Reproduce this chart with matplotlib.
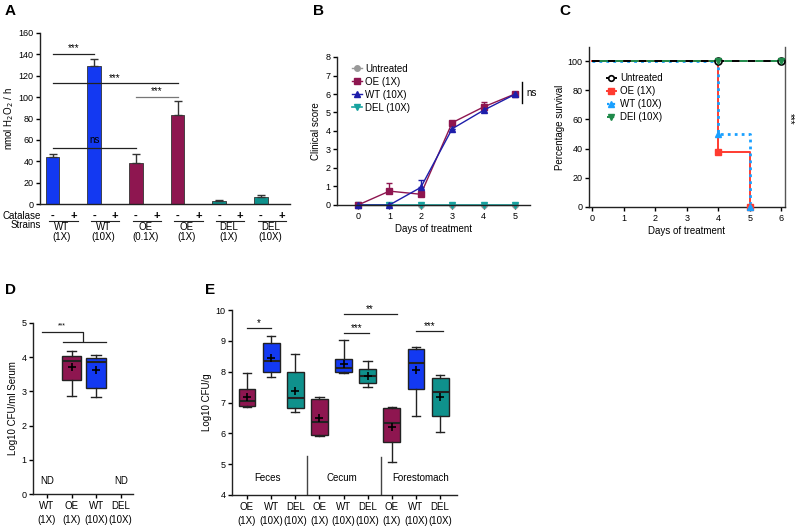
import matplotlib
matplotlib.use('Agg')
import matplotlib.pyplot as plt
import numpy as np

plt.rcParams['font.family'] = ['Liberation Sans', 'DejaVu Sans']
plt.rcParams['font.size'] = 7
plt.rcParams['xtick.labelsize'] = 6.5
plt.rcParams['ytick.labelsize'] = 6.5
plt.rcParams['axes.linewidth'] = 1.0
plt.rcParams['axes.edgecolor'] = '#222222'
plt.rcParams['xtick.major.width'] = 1.0
plt.rcParams['ytick.major.width'] = 1.0
plt.rcParams['xtick.major.size'] = 3
plt.rcParams['ytick.major.size'] = 3
plt.rcParams['xtick.major.pad'] = 2
plt.rcParams['ytick.major.pad'] = 1.5

OE_COL = '#8e1650'
WT_COL = '#1339f2'
DEL_COL = '#0f918c'

# ---- panel A: H2O2 production
a_strains = ['WT\n(1X)', 'WT\n(10X)', 'OE\n(0.1X)', 'OE\n(1X)', 'DEL\n(1X)', 'DEL\n(10X)']
a_no_catalase = [44, 129, 38, 83, 3, 6.5]
a_no_catalase_err = [3, 7, 9, 13, 1, 2]
a_with_catalase = [0, 0, 0, 0, 0, 0]
a_colors = [WT_COL, WT_COL, OE_COL, OE_COL, DEL_COL, DEL_COL]

# ---- panel B: clinical score
b_days = [0, 1, 2, 3, 4, 5]
b_untreated = [0, 0, 0, 0, 0, 0]
b_oe = [0, 0.75, 0.58, 4.45, 5.3, 6.0]
b_oe_err = [0, 0.45, 0, 0.08, 0.25, 0]
b_wt = [0, 0, 0.95, 4.12, 5.12, 5.98]
b_wt_err = [0, 0, 0.4, 0, 0.1, 0]
b_del = [0, 0, 0, 0, 0, 0]

# ---- panel C: survival
c_days_untreated = [0, 4, 6]
c_untreated = [100, 100, 100]
c_days_oe = [0, 4, 5]
c_oe = [100, 37.5, 0]
c_days_wt = [0, 4, 5]
c_wt = [100, 50, 0]
c_days_del = [0, 4, 6]
c_del = [100, 100, 100]

# ---- panel D: serum CFU (box stats)
d_labels = ['WT\n(1X)', 'OE\n(1X)', 'WT\n(10X)', 'DEL\n(10X)']
d_box_pos = [2, 3]
d_box_colors = [OE_COL, WT_COL]
d_whislo = [2.88, 2.84]
d_q1 = [3.32, 3.09]
d_med = [3.88, 3.86]
d_q3 = [4.03, 3.99]
d_whishi = [4.19, 4.07]
d_mean = [3.71, 3.62]

# ---- panel E: organ CFU (box stats)
e_labels = ['OE\n(1X)', 'WT\n(10X)', 'DEL\n(10X)'] * 3
e_colors = [OE_COL, WT_COL, DEL_COL] * 3
e_whislo = [6.86, 7.82, 6.70, 5.91, 7.95, 7.50, 5.08, 6.56, 6.04]
e_q1 = [6.90, 8.00, 6.82, 5.94, 7.98, 7.64, 5.71, 7.44, 6.56]
e_med = [7.06, 8.34, 7.16, 6.37, 8.12, 7.85, 6.35, 8.29, 7.34]
e_q3 = [7.43, 8.92, 7.98, 7.10, 8.42, 8.08, 6.82, 8.75, 7.81]
e_whishi = [7.95, 9.16, 8.57, 7.17, 9.03, 8.35, 6.84, 8.81, 7.88]
e_mean = [7.18, 8.43, 7.37, 6.49, 8.24, 7.86, 6.22, 8.05, 7.19]
e_sites = ['Feces', 'Cecum', 'Forestomach']

fig = plt.figure(figsize=(7.96, 5.28), dpi=100)


def prism(ax):
    ax.spines['top'].set_visible(False)
    ax.spines['right'].set_visible(False)


def sig_line(ax, x0, x1, y, txt, dy, color='#222222', fs=7):
    ax.plot([x0, x1], [y, y], color=color, lw=0.9, clip_on=False)
    ax.text((x0 + x1) / 2, y + dy, txt, ha='center', va='bottom', fontsize=fs)


# ================= A
axA = fig.add_axes([40 / 796, 1 - 204 / 528, 250 / 796, 171 / 528])
prism(axA)
pos_minus = np.arange(6) * 2
pos_plus = pos_minus + 1
axA.bar(pos_minus, a_no_catalase, width=0.67, color=a_colors, edgecolor='#333333', lw=0.6,
        yerr=[np.zeros(6), a_no_catalase_err], capsize=3,
        error_kw=dict(ecolor='#333333', elinewidth=1.0, capthick=1.0))
axA.bar(pos_plus, a_with_catalase, width=0.67, color=a_colors)
axA.set_xlim(-0.6, 11.4)
axA.set_ylim(0, 160)
axA.set_yticks(range(0, 161, 20))
axA.set_xticks([])
axA.set_ylabel('nmol H$_2$O$_2$ / h', labelpad=2)

sig_line(axA, 0, 2, 140.5, '***', 0.5)
sig_line(axA, 0, 6, 113, '***', 0.5)
sig_line(axA, 4, 6, 100.5, '***', 0.5, color='#777777')
sig_line(axA, 0, 4, 52, 'ns', 3)

tr = axA.get_xaxis_transform()
axA.text(-0.55, -0.07, 'Catalase', transform=tr, ha='right', va='center', fontsize=7)
axA.text(-0.55, -0.125, 'Strains', transform=tr, ha='right', va='center', fontsize=7)
for i, name in enumerate(a_strains):
    axA.text(pos_minus[i], -0.07, '-', transform=tr, ha='center', va='center',
             fontsize=8, fontweight='bold')
    axA.text(pos_plus[i], -0.07, '+', transform=tr, ha='center', va='center',
             fontsize=8, fontweight='bold')
    axA.plot([pos_minus[i] - 0.15, pos_plus[i] + 0.2], [-0.097, -0.097], transform=tr,
             color='#222222', lw=0.8, clip_on=False)
    axA.text(pos_minus[i] + 0.45, -0.105, name, transform=tr, ha='center', va='top',
             fontsize=7, linespacing=0.95)

# ================= B
axB = fig.add_axes([337 / 796, 1 - 205 / 528, 193 / 796, 148 / 528])
prism(axB)
l_un, = axB.plot(b_days, b_untreated, color='#999999', marker='o', ms=4, lw=1, clip_on=False)
l_oe = axB.errorbar(b_days, b_oe, yerr=[np.zeros(6), b_oe_err], color=OE_COL, marker='s', ms=5, lw=1,
                    capsize=2.5, clip_on=False)
l_wt = axB.errorbar(b_days, b_wt, yerr=[np.zeros(6), b_wt_err], color='#1e1eaa', marker='^', ms=5, lw=1,
                    capsize=2.5, clip_on=False)
l_del, = axB.plot(b_days, b_del, color='#18a3a0', marker='v', ms=5, lw=1.2, clip_on=False)
axB.set_xlim(-0.67, 5.48)
axB.set_ylim(0, 8)
axB.set_yticks(range(0, 9))
axB.set_xticks(b_days)
axB.set_xlabel('Days of treatment', fontsize=7, labelpad=2)
axB.set_ylabel('Clinical score', fontsize=7, labelpad=3)
axB.plot([5.22, 5.22], [5.5, 6.65], color='black', lw=1, clip_on=False)
axB.text(5.35, 6.05, 'ns', ha='left', va='center', fontsize=7)
axB.legend([l_un, l_oe[0], l_wt[0], l_del], ['Untreated', 'OE (1X)', 'WT (10X)', 'DEL (10X)'],
           loc='upper left', bbox_to_anchor=(0.06, 0.98), frameon=False, fontsize=7,
           handlelength=1.0, handletextpad=0.3, labelspacing=0.3, borderaxespad=0)

# ================= C
axC = fig.add_axes([589 / 796, 1 - 207 / 528, 196 / 796, 160 / 528])
axC.spines['top'].set_visible(False)
axC.spines['right'].set_color('#555555')
axC.step(c_days_oe, c_oe, where='post', color='#ff3b30', lw=1.4, clip_on=False)
axC.plot(c_days_oe[1:], c_oe[1:], 's', color='#ff3b30', ms=5, clip_on=False, zorder=4)
axC.step(c_days_wt, c_wt, where='post', color='#1aa0ff', lw=2, ls=(0, (1, 1.5)), clip_on=False)
axC.plot(c_days_wt[1:], c_wt[1:], '^', color='#1aa0ff', ms=5, clip_on=False, zorder=4)
axC.step(c_days_untreated, c_untreated, where='post', color='black', lw=1.4, ls=(0, (4, 4)), clip_on=False)
axC.step(c_days_del, c_del, where='post', color='#1f8a4a', lw=1.4, ls=(4, (4, 4)), clip_on=False)
axC.plot(c_days_untreated[1:], c_untreated[1:], 'o', mfc='white', mec='black', mew=1.2, ms=5,
         clip_on=False, zorder=4)
axC.plot(c_days_del[1:], c_del[1:], 'v', color='#1f8a4a', ms=5, clip_on=False, zorder=5)
h1, = axC.plot([], [], color='black', marker='o', mfc='white', mec='black', mew=1.2, ms=4, lw=1.4)
h2, = axC.plot([], [], color='#ff3b30', marker='s', ms=5, lw=1.4)
h3, = axC.plot([], [], color='#1aa0ff', marker='^', ms=5, lw=1.6, ls=':')
h4, = axC.plot([], [], color='#1f8a4a', marker='v', ms=5, lw=1.4, ls='--')
axC.legend([h1, h2, h3, h4], ['Untreated', 'OE (1X)', 'WT (10X)', 'DEl (10X)'],
           loc='upper left', bbox_to_anchor=(0.07, 0.86), frameon=False, fontsize=7,
           handlelength=1.0, handletextpad=0.4, labelspacing=0.3, borderaxespad=0)
axC.set_xlim(-0.1, 6.12)
axC.set_ylim(0, 109.6)
axC.set_yticks(range(0, 101, 20))
axC.set_xticks(range(0, 7))
axC.set_xlabel('Days of treatment', fontsize=7, labelpad=2)
axC.set_ylabel('Percentage survival', fontsize=7, labelpad=2)
axC.text(1.022, 0.55, '***', transform=axC.transAxes, rotation=270, ha='center', va='center', fontsize=7)

# ================= D
axD = fig.add_axes([33 / 796, 1 - 494 / 528, 100 / 796, 171 / 528])
prism(axD)
d_stats = [dict(whislo=d_whislo[i], q1=d_q1[i], med=d_med[i], q3=d_q3[i], whishi=d_whishi[i],
                mean=d_mean[i], fliers=[]) for i in range(2)]
boxD = axD.bxp(d_stats, positions=d_box_pos, widths=0.8, patch_artist=True, showmeans=True,
               boxprops=dict(edgecolor='#222222', lw=1),
               medianprops=dict(color='#222222', lw=1.5),
               whiskerprops=dict(color='#222222', lw=1), capprops=dict(color='#222222', lw=1),
               meanprops=dict(marker='+', markeredgecolor='black', markersize=6, mew=1.2))
for patch, col in zip(boxD['boxes'], d_box_colors):
    patch.set_facecolor(col)
axD.set_xlim(0.43, 4.5)
axD.set_ylim(0, 5)
axD.set_xticks([1, 2, 3, 4])
axD.set_xticklabels(d_labels, fontsize=7, linespacing=1.5)
axD.set_ylabel('Log10 CFU/ml Serum', fontsize=7, labelpad=3)
axD.text(1, 0.37, 'ND', ha='center', va='center', fontsize=7)
axD.text(4, 0.37, 'ND', ha='center', va='center', fontsize=7)
axD.plot([0.8, 2.45, 2.45], [4.74, 4.74, 4.46], color='#222222', lw=0.9, clip_on=False)
axD.plot([1.65, 3.4], [4.43, 4.43], color='#222222', lw=0.9, clip_on=False)
axD.text(1.6, 4.8, '***', ha='center', va='bottom', fontsize=5)

# ================= E
axE = fig.add_axes([232 / 796, 1 - 495 / 528, 225 / 796, 185 / 528])
prism(axE)
e_pos = np.arange(9)
e_stats = [dict(whislo=e_whislo[i], q1=e_q1[i], med=e_med[i], q3=e_q3[i], whishi=e_whishi[i],
                mean=e_mean[i], fliers=[]) for i in range(9)]
boxE = axE.bxp(e_stats, positions=e_pos, widths=0.7, patch_artist=True, showmeans=True,
               boxprops=dict(edgecolor='#222222', lw=1),
               medianprops=dict(color='#222222', lw=1.5),
               whiskerprops=dict(color='#222222', lw=1), capprops=dict(color='#222222', lw=1),
               meanprops=dict(marker='+', markeredgecolor='black', markersize=6, mew=1.2))
for patch, col in zip(boxE['boxes'], e_colors):
    patch.set_facecolor(col)
axE.set_xlim(-0.62, 8.7)
axE.set_ylim(4, 10)
axE.set_yticks(range(4, 11))
axE.set_xticks(e_pos)
axE.set_xticklabels(e_labels, fontsize=7, linespacing=1.5)
axE.set_ylabel('Log10 CFU/g', fontsize=7, labelpad=3)
axE.plot([2.49, 2.49], [4, 5.26], color='#444444', lw=1)
axE.plot([5.56, 5.56], [4, 5.24], color='#444444', lw=1)
for x, name in zip([0.85, 3.95, 7.2], e_sites):
    axE.text(x, 4.56, name, ha='center', va='center', fontsize=7)
sig_line(axE, 0, 1, 9.41, '*', 0.0)
sig_line(axE, 4, 6.2, 9.88, '**', 0.0)
sig_line(axE, 4, 5.05, 9.24, '***', 0.0)
sig_line(axE, 7, 8.1, 9.31, '***', 0.0)

# panel letters
for x, y, s in [(10, 11, 'A'), (318, 11, 'B'), (565, 11, 'C'), (10, 290, 'D'), (210, 290, 'E')]:
    fig.text(x / 796, 1 - y / 528, s, fontsize=11, fontweight='bold', ha='center', va='center')

fig.savefig('out.png', dpi=100)
